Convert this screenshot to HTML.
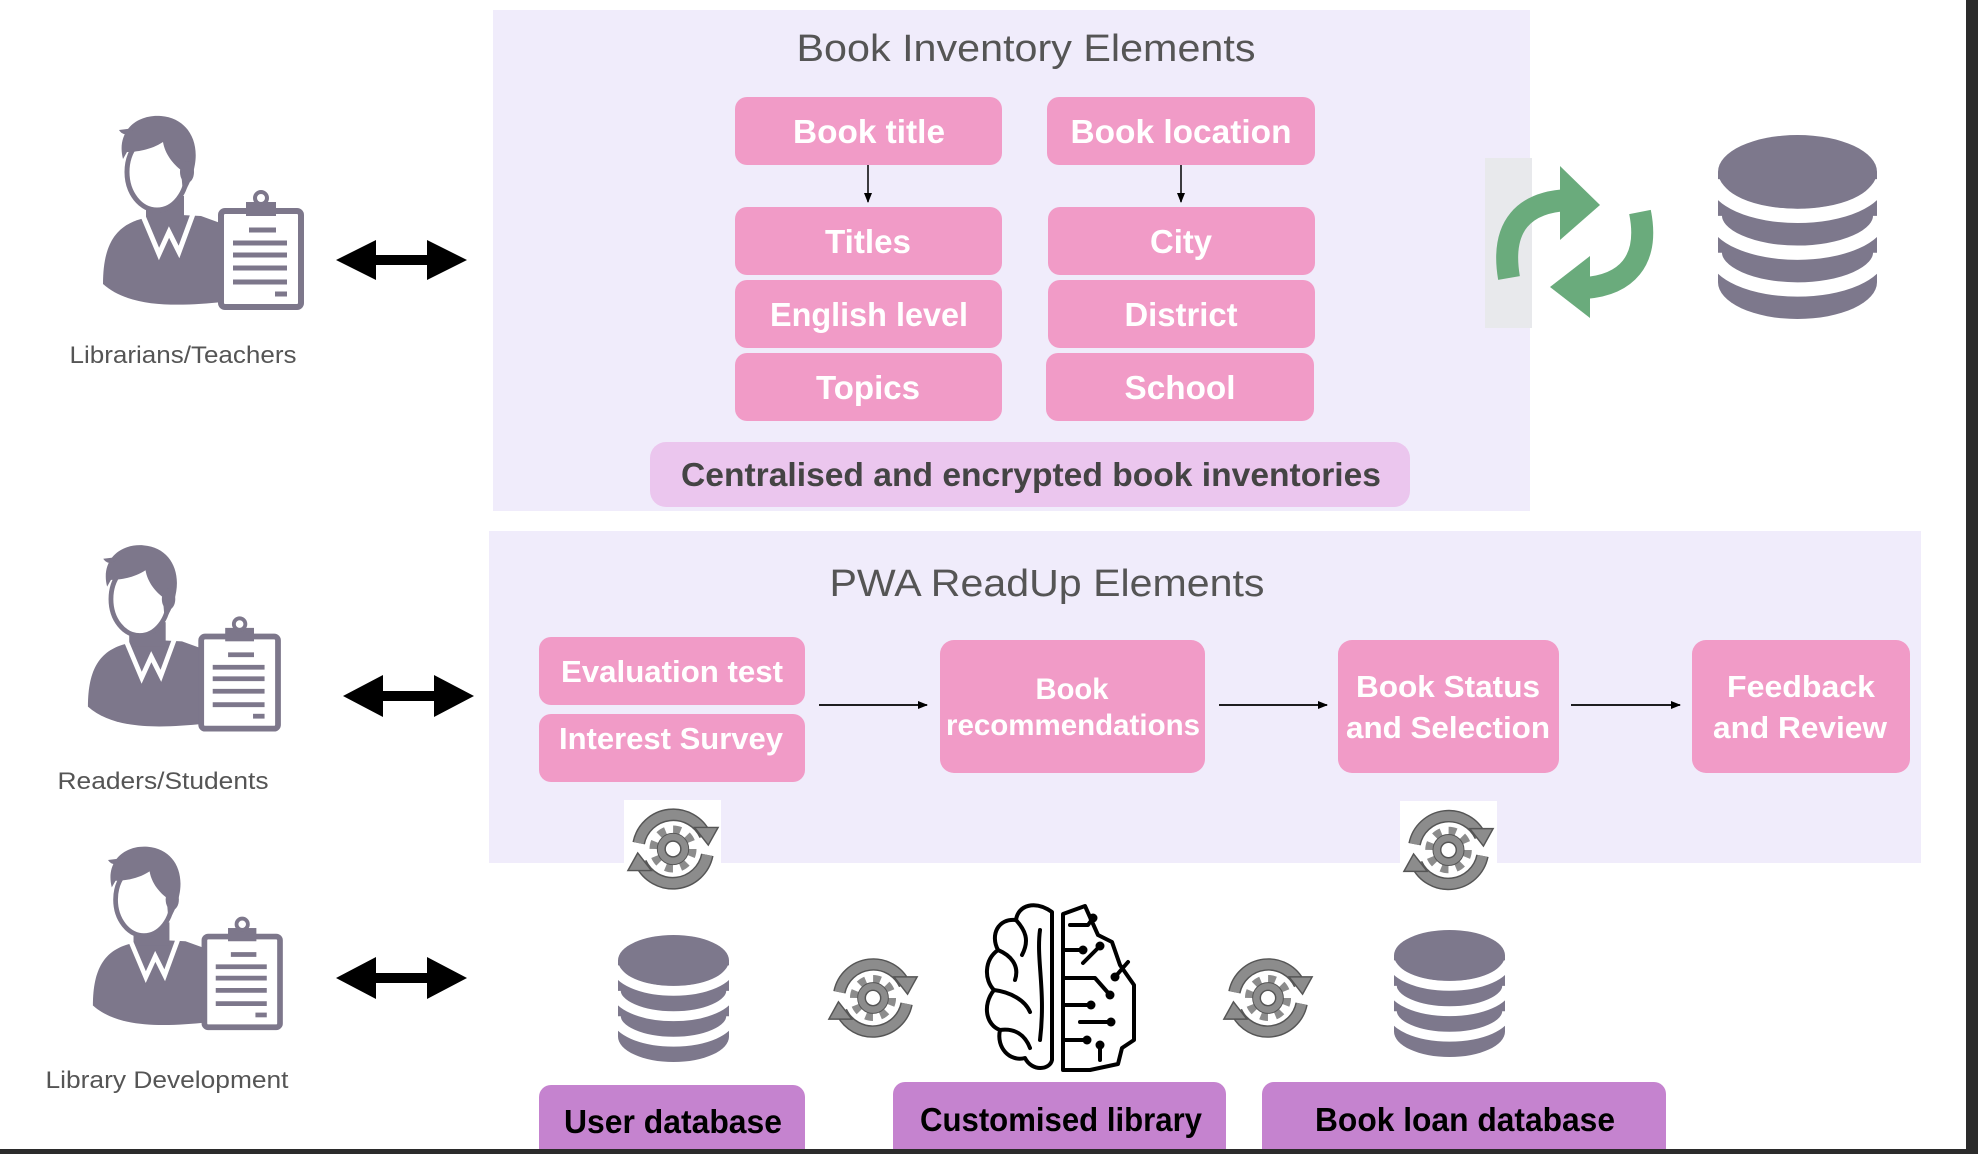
<!DOCTYPE html>
<html><head><meta charset="utf-8"><style>
html,body{margin:0;padding:0;background:#fff}
svg{display:block}
text{font-family:"Liberation Sans",Arial,sans-serif}
.bw{fill:#fff;font-weight:bold;text-anchor:middle}
.gt{fill:#555;text-anchor:middle}
</style></head><body>
<svg width="1978" height="1154" viewBox="0 0 1978 1154" xmlns="http://www.w3.org/2000/svg">
<defs>
<symbol id="person" viewBox="0 0 200 195" overflow="visible">
  <path d="M2,170 C2,130 15,112 40,105 L60,100 L100,102 L122,110 L122,188 C80,192 30,195 2,170 Z" fill="#7d778b"/>
  <rect x="45" y="82" width="38" height="25" fill="#7d778b"/>
  <path d="M42,102 L58,140 L68,118 L78,138 L92,100" stroke="#fff" stroke-width="5" fill="none"/>
  <ellipse cx="56" cy="58" rx="30" ry="38" fill="#fff" stroke="#7d778b" stroke-width="5"/>
  <path d="M22,45 C15,18 35,0 60,2 C85,4 98,25 94,50 C92,62 88,72 82,80 L80,56 C72,50 64,40 62,28 C50,36 35,38 26,38 Z" fill="#7d778b"/>
  <path d="M18,16 C22,22 28,22 34,14 Z" fill="#7d778b"/>
  <ellipse cx="86" cy="58" rx="7" ry="11" fill="#7d778b"/>
  <rect x="120" y="97" width="80" height="96" rx="4" fill="#fff" stroke="#7d778b" stroke-width="6"/>
  <rect x="145" y="88" width="30" height="14" fill="#7d778b"/>
  <circle cx="160" cy="84" r="6" fill="#fff" stroke="#7d778b" stroke-width="4"/>
  <g stroke="#7d778b" stroke-width="5">
    <line x1="148" y1="116" x2="175" y2="116"/>
    <line x1="132" y1="129" x2="186" y2="129"/>
    <line x1="132" y1="141" x2="186" y2="141"/>
    <line x1="132" y1="154" x2="186" y2="154"/>
    <line x1="132" y1="168" x2="186" y2="168"/>
    <line x1="174" y1="180" x2="186" y2="180"/>
  </g>
</symbol>
<symbol id="db" viewBox="0 0 100 116" preserveAspectRatio="none">
  <rect x="0" y="23.2" width="100" height="69.6" fill="#7d788c"/>
  <ellipse cx="50" cy="92.8" rx="50" ry="23.2" fill="#7d788c"/>
  <g fill="none" stroke="#fff" stroke-width="9">
    <path d="M-2,27.8 A52 23.2 0 0 0 102,27.8"/>
    <path d="M-2,51 A52 23.2 0 0 0 102,51"/>
    <path d="M-2,74.2 A52 23.2 0 0 0 102,74.2"/>
  </g>
  <ellipse cx="50" cy="23.2" rx="50" ry="23.2" fill="#7d788c"/>
</symbol>
<symbol id="gear" viewBox="0 0 100 100">
  <g fill="none" stroke-linecap="butt">
    <path d="M15,44 A36 36 0 0 1 83,36" stroke="#555" stroke-width="13"/>
    <path d="M15,44 A36 36 0 0 1 83,36" stroke="#8c8c8c" stroke-width="10"/>
    <path d="M85,56 A36 36 0 0 1 17,64" stroke="#555" stroke-width="13"/>
    <path d="M85,56 A36 36 0 0 1 17,64" stroke="#8c8c8c" stroke-width="10"/>
  </g>
  <polygon points="72,28 96,28 86,46" fill="#8c8c8c" stroke="#555" stroke-width="1.5"/>
  <polygon points="4,72 28,72 14,54" fill="#8c8c8c" stroke="#555" stroke-width="1.5"/>
  <circle cx="50" cy="50" r="20" fill="none" stroke="#8c8c8c" stroke-width="8" stroke-dasharray="7.8 7.9"/>
  <circle cx="50" cy="50" r="16" fill="#8c8c8c" stroke="#555" stroke-width="1"/>
  <circle cx="50" cy="50" r="8" fill="#fff" stroke="#555" stroke-width="1.5"/>
</symbol>
<marker id="ah" markerWidth="10" markerHeight="10" refX="9" refY="5" orient="auto" markerUnits="userSpaceOnUse">
  <path d="M0,1 L10,5 L0,9 Z" fill="#000"/>
</marker>
</defs>

<rect x="493" y="10" width="1037" height="501" fill="#f0ecfb"/>
<rect x="489" y="531" width="1432" height="332" fill="#f0ecfb"/>

<rect x="1966" y="0" width="12" height="1154" fill="#2b2b2b"/>

<use href="#person" x="101" y="114" width="200" height="195"/>
<use href="#person" x="86" y="542" width="192" height="190"/>
<use href="#person" x="91" y="843" width="189" height="188"/>
<text x="183" y="363" class="gt" font-size="24" textLength="227" lengthAdjust="spacingAndGlyphs">Librarians/Teachers</text>
<text x="163" y="789" class="gt" font-size="24" textLength="211" lengthAdjust="spacingAndGlyphs">Readers/Students</text>
<text x="167" y="1088" class="gt" font-size="24" textLength="243" lengthAdjust="spacingAndGlyphs">Library Development</text>

<polygon points="336,260 376,240 376,255 427,255 427,240 467,260 427,280 427,265 376,265 376,280" fill="#000"/>
<polygon points="343,696 383,675 383,691 434,691 434,675 474,696 434,717 434,701 383,701 383,717" fill="#000"/>
<polygon points="336,978 376,957 376,973 427,973 427,957 467,978 427,999 427,983 376,983 376,999" fill="#000"/>

<text x="1026" y="61" class="gt" font-size="38" textLength="459" lengthAdjust="spacingAndGlyphs">Book Inventory Elements</text>
<g fill="#f19bc7">
<rect x="735" y="97" width="267" height="68" rx="12"/>
<rect x="1047" y="97" width="268" height="68" rx="12"/>
<rect x="735" y="207" width="267" height="68" rx="12"/>
<rect x="735" y="280" width="267" height="68" rx="12"/>
<rect x="735" y="353" width="267" height="68" rx="12"/>
<rect x="1048" y="207" width="267" height="68" rx="12"/>
<rect x="1048" y="280" width="267" height="68" rx="12"/>
<rect x="1046" y="353" width="268" height="68" rx="12"/>
</g>
<line x1="868" y1="165" x2="868" y2="202" stroke="#000" stroke-width="1.5" marker-end="url(#ah)"/>
<line x1="1181" y1="165" x2="1181" y2="202" stroke="#000" stroke-width="1.5" marker-end="url(#ah)"/>
<text x="869" y="143" class="bw" font-size="33" textLength="152" lengthAdjust="spacingAndGlyphs">Book title</text>
<text x="1181" y="143" class="bw" font-size="33" textLength="221" lengthAdjust="spacingAndGlyphs">Book location</text>
<text x="868" y="253" class="bw" font-size="33" textLength="86" lengthAdjust="spacingAndGlyphs">Titles</text>
<text x="869" y="326" class="bw" font-size="33" textLength="198" lengthAdjust="spacingAndGlyphs">English level</text>
<text x="868" y="399" class="bw" font-size="33" textLength="104" lengthAdjust="spacingAndGlyphs">Topics</text>
<text x="1181" y="253" class="bw" font-size="33" textLength="62" lengthAdjust="spacingAndGlyphs">City</text>
<text x="1181" y="326" class="bw" font-size="33" textLength="113" lengthAdjust="spacingAndGlyphs">District</text>
<text x="1180" y="399" class="bw" font-size="33" textLength="111" lengthAdjust="spacingAndGlyphs">School</text>
<rect x="650" y="442" width="760" height="65" rx="16" fill="#ebc6ee"/>
<text x="1031" y="486" font-size="33" font-weight="bold" fill="#444" text-anchor="middle" textLength="700" lengthAdjust="spacingAndGlyphs">Centralised and encrypted book inventories</text>

<rect x="1485" y="158" width="47" height="170" fill="#e8e9ec"/>
<path d="M1509,278 C1500,225 1525,202 1568,200" fill="none" stroke="#6aab7c" stroke-width="22"/>
<polygon points="1560,166 1600,205 1560,240" fill="#6aab7c"/>
<path d="M1640,212 C1650,262 1625,285 1585,288" fill="none" stroke="#6aab7c" stroke-width="22"/>
<polygon points="1590,256 1550,287 1590,318" fill="#6aab7c"/>
<use href="#db" x="1718" y="135" width="159" height="184"/>

<text x="1047" y="596" class="gt" font-size="38" textLength="435" lengthAdjust="spacingAndGlyphs">PWA ReadUp Elements</text>
<g fill="#f19bc7">
<rect x="539" y="637" width="266" height="68" rx="12"/>
<rect x="539" y="714" width="266" height="68" rx="12"/>
<rect x="940" y="640" width="265" height="133" rx="14"/>
<rect x="1338" y="640" width="221" height="133" rx="14"/>
<rect x="1692" y="640" width="218" height="133" rx="14"/>
</g>
<line x1="819" y1="705" x2="927" y2="705" stroke="#000" stroke-width="1.8" marker-end="url(#ah)"/>
<line x1="1219" y1="705" x2="1327" y2="705" stroke="#000" stroke-width="1.8" marker-end="url(#ah)"/>
<line x1="1571" y1="705" x2="1680" y2="705" stroke="#000" stroke-width="1.8" marker-end="url(#ah)"/>
<text x="672" y="682" class="bw" font-size="31" textLength="222" lengthAdjust="spacingAndGlyphs">Evaluation test</text>
<text x="671" y="749" class="bw" font-size="31" textLength="224" lengthAdjust="spacingAndGlyphs">Interest Survey</text>
<text x="1072" y="699" class="bw" font-size="30" textLength="73" lengthAdjust="spacingAndGlyphs">Book</text>
<text x="1073" y="735" class="bw" font-size="30" textLength="254" lengthAdjust="spacingAndGlyphs">recommendations</text>
<text x="1448" y="697" class="bw" font-size="31" textLength="184" lengthAdjust="spacingAndGlyphs">Book Status</text>
<text x="1448" y="738" class="bw" font-size="31" textLength="204" lengthAdjust="spacingAndGlyphs">and Selection</text>
<text x="1801" y="697" class="bw" font-size="31" textLength="148" lengthAdjust="spacingAndGlyphs">Feedback</text>
<text x="1800" y="738" class="bw" font-size="31" textLength="174" lengthAdjust="spacingAndGlyphs">and Review</text>

<rect x="624" y="800" width="97" height="63" fill="#fff"/>
<use href="#gear" x="624" y="800" width="98" height="98"/>
<rect x="1400" y="801" width="97" height="62" fill="#fff"/>
<use href="#gear" x="1400" y="801" width="97" height="98"/>
<use href="#gear" x="825" y="949" width="96" height="98"/>
<use href="#gear" x="1220" y="949" width="96" height="98"/>

<use href="#db" x="618" y="935" width="111" height="127"/>
<use href="#db" x="1394" y="930" width="111" height="127"/>

<g fill="none" stroke="#000" stroke-width="4" stroke-linejoin="round" stroke-linecap="round">
  <path d="M1052,912 C1035,900 1018,905 1016,920 C998,918 990,935 998,950 C984,960 984,980 994,990 C982,1005 986,1025 1000,1030 C996,1048 1010,1062 1025,1058 C1032,1072 1050,1070 1052,1060 Z"/>
  <path d="M1016,920 C1025,930 1030,940 1022,955"/>
  <path d="M998,950 C1010,955 1020,965 1015,980"/>
  <path d="M994,990 C1010,992 1025,1000 1030,1012"/>
  <path d="M1000,1030 C1015,1028 1025,1035 1030,1048"/>
  <path d="M1040,930 C1036,960 1046,990 1040,1040"/>
  <path d="M1063,914 L1085,906 L1098,935 L1112,942 L1120,965 L1134,985 L1134,1040 L1122,1048 L1118,1064 L1090,1070 L1063,1070 Z"/>
  <path d="M1070,925 L1088,925 L1093,918"/>
  <path d="M1063,950 L1082,950"/>
  <path d="M1083,963 L1100,946"/>
  <path d="M1063,978 L1095,978 L1110,995"/>
  <path d="M1063,1005 L1090,1005"/>
  <path d="M1080,1022 L1110,1022"/>
  <path d="M1063,1040 L1086,1040"/>
  <path d="M1100,1045 L1100,1060"/>
  <path d="M1115,977 L1128,962"/>
</g>
<g fill="#000">
  <circle cx="1093" cy="918" r="4.5"/><circle cx="1083" cy="950" r="4.5"/><circle cx="1100" cy="946" r="4.5"/>
  <circle cx="1110" cy="995" r="4.5"/><circle cx="1091" cy="1005" r="4.5"/><circle cx="1111" cy="1022" r="4.5"/>
  <circle cx="1087" cy="1040" r="4.5"/><circle cx="1100" cy="1045" r="4.5"/><circle cx="1115" cy="977" r="4.5"/>
</g>

<g fill="#c583cf">
<rect x="539" y="1085" width="266" height="80" rx="12"/>
<rect x="893" y="1082" width="333" height="83" rx="12"/>
<rect x="1262" y="1082" width="404" height="83" rx="12"/>
</g>
<text x="673" y="1133" font-size="33" font-weight="bold" fill="#000" text-anchor="middle" textLength="218" lengthAdjust="spacingAndGlyphs">User database</text>
<text x="1061" y="1131" font-size="33" font-weight="bold" fill="#000" text-anchor="middle" textLength="282" lengthAdjust="spacingAndGlyphs">Customised library</text>
<text x="1465" y="1131" font-size="33" font-weight="bold" fill="#000" text-anchor="middle" textLength="300" lengthAdjust="spacingAndGlyphs">Book loan database</text>
<rect x="0" y="1149" width="1978" height="5" fill="#2b2b2b"/>
</svg>
</body></html>
